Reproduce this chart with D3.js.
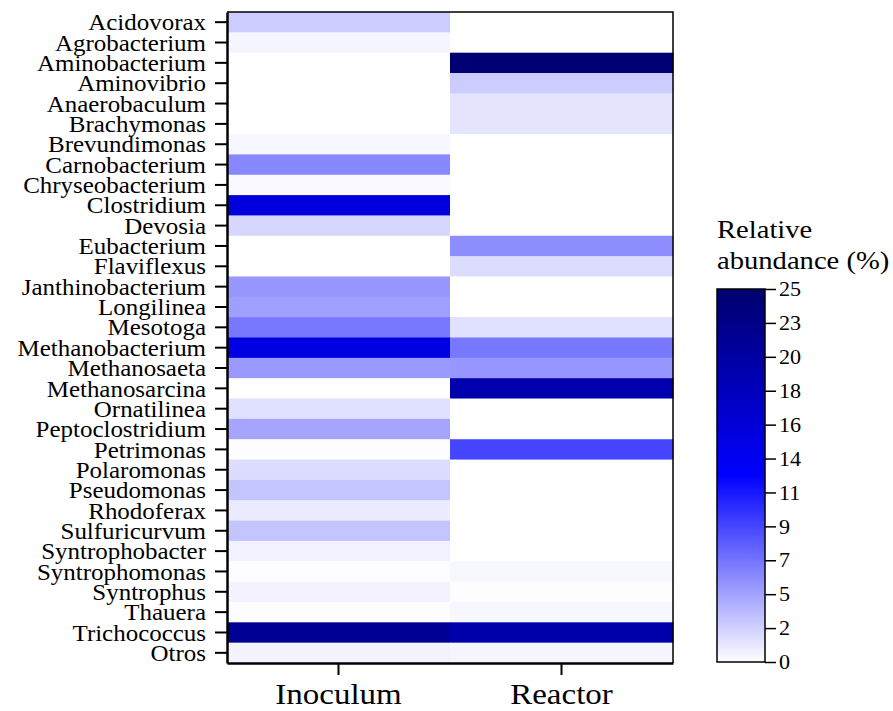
<!DOCTYPE html>
<html>
<head>
<meta charset="utf-8">
<script src="https://cdn.jsdelivr.net/npm/d3@7"></script>
<style>
  body { margin: 0; background: #fff; }
  text { font-family: "Liberation Serif", "Times New Roman", serif; fill: #000; }
</style>
</head>
<body>
<div id="chart"></div>
<script>
const genera = ["Acidovorax", "Agrobacterium", "Aminobacterium", "Aminovibrio", "Anaerobaculum",
  "Brachymonas", "Brevundimonas", "Carnobacterium", "Chryseobacterium", "Clostridium", "Devosia",
  "Eubacterium", "Flaviflexus", "Janthinobacterium", "Longilinea", "Mesotoga", "Methanobacterium",
  "Methanosaeta", "Methanosarcina", "Ornatilinea", "Peptoclostridium", "Petrimonas", "Polaromonas",
  "Pseudomonas", "Rhodoferax", "Sulfuricurvum", "Syntrophobacter", "Syntrophomonas", "Syntrophus",
  "Thauera", "Trichococcus", "Otros"];
const samples = ["Inoculum", "Reactor"];
const inoculum = [2.5, 0.5, 0, 0, 0, 0, 0.4, 5.9, 0.3, 15.3, 2.0, 0, 0, 5.1, 4.7, 6.6, 15.0,
  5.0, 0, 1.5, 4.4, 0.1, 1.7, 2.9, 1.0, 2.9, 0.7, 0.1, 0.6, 0.1, 21.6, 0.6];
const reactor = [0, 0, 24.6, 2.5, 1.3, 1.3, 0, 0, 0, 0, 0, 5.6, 1.7, 0, 0, 1.5, 6.6,
  5.1, 19.4, 0, 0, 9.1, 0, 0, 0, 0, 0.05, 0.4, 0.1, 0.4, 19.8, 0.5];
const legendLabels = ["0", "2", "5", "7", "9", "11", "14", "16", "18", "20", "23", "25"];
const legendMax = 25;

const W = 893, H = 711;
const hm = { left: 227, right: 673, top: 12, bottom: 663 };
const cb = { left: 717, right: 765, top: 289, bottom: 662 };

const svg = d3.select("#chart").append("svg")
  .attr("width", W).attr("height", H);

const cells = [];
genera.forEach((g, i) => {
  cells.push({ genus: g, sample: samples[0], value: inoculum[i] });
  cells.push({ genus: g, sample: samples[1], value: reactor[i] });
});

const x = d3.scaleBand().domain(samples).range([hm.left, hm.right]);
const y = d3.scaleBand().domain(genera).range([hm.top, hm.bottom]);
const color = d3.scaleLinear()
  .domain([0, legendMax / 2, legendMax])
  .range(["#ffffff", "#0000ff", "#00006e"]);

svg.append("g").selectAll("rect")
  .data(cells)
  .join("rect")
    .attr("x", d => x(d.sample))
    .attr("y", d => y(d.genus))
    .attr("width", x.bandwidth() + 0.5)
    .attr("height", y.bandwidth() + 0.5)
    .attr("fill", d => color(d.value));

// thin frame on top/right
svg.append("path")
  .attr("d", `M${hm.left},${hm.top}H${hm.right}V${hm.bottom}`)
  .attr("fill", "none").attr("stroke", "#000").attr("stroke-width", 1.5);

const yAxis = svg.append("g")
  .attr("transform", `translate(${hm.left},0)`)
  .call(d3.axisLeft(y).tickSize(12).tickPadding(9).tickSizeOuter(0));
yAxis.select(".domain").attr("stroke-width", 2.5);
yAxis.selectAll(".tick line").attr("stroke-width", 2);
yAxis.selectAll(".tick text")
  .style("font-size", "24px")
  .attr("dy", "0.34em")
  .attr("transform", "scale(1.04,1)")
  .attr("x", -21 / 1.04);

const xAxis = svg.append("g")
  .attr("transform", `translate(0,${hm.bottom})`)
  .call(d3.axisBottom(x).tickSize(12).tickPadding(0).tickSizeOuter(0));
xAxis.select(".domain").attr("stroke-width", 2.5);
xAxis.selectAll(".tick line").attr("stroke-width", 2);
xAxis.selectAll(".tick text")
  .style("font-size", "30px")
  .attr("dy", null)
  .attr("y", 41)
  .attr("transform", "scale(1.1,1)");

// colour bar
const defs = svg.append("defs");
const grad = defs.append("linearGradient")
  .attr("id", "cbar").attr("x1", 0).attr("y1", 1).attr("x2", 0).attr("y2", 0);
grad.selectAll("stop")
  .data(d3.range(0, 1.0001, 0.1))
  .join("stop")
    .attr("offset", d => d)
    .attr("stop-color", d => color(d * legendMax));

const cy = d3.scaleLinear().domain([0, legendMax]).range([cb.bottom, cb.top]);

svg.append("rect")
  .attr("x", cb.left).attr("y", cb.top)
  .attr("width", cb.right - cb.left).attr("height", cb.bottom - cb.top)
  .attr("fill", "url(#cbar)")
  .attr("stroke", "#000").attr("stroke-width", 1.5);

const step = legendMax / (legendLabels.length - 1);
const cAxis = svg.append("g")
  .attr("transform", `translate(${cb.right},0)`)
  .call(d3.axisRight(cy)
    .tickValues(legendLabels.map((_, i) => i * step))
    .tickFormat((_, i) => legendLabels[i])
    .tickSize(11).tickPadding(3).tickSizeOuter(0));
cAxis.select(".domain").remove();
cAxis.selectAll(".tick line").attr("stroke-width", 1.5);
cAxis.selectAll(".tick text")
  .style("font-size", "21px")
  .attr("transform", "scale(1.05,1)")
  .attr("x", 14 / 1.05);

const title = svg.append("text")
  .attr("transform", `translate(${cb.left},0) scale(1.1,1)`)
  .style("font-size", "26px");
title.append("tspan").attr("x", 0).attr("y", 238).text("Relative");
title.append("tspan").attr("x", 0).attr("y", 269).text("abundance (%)");
</script>
</body>
</html>
